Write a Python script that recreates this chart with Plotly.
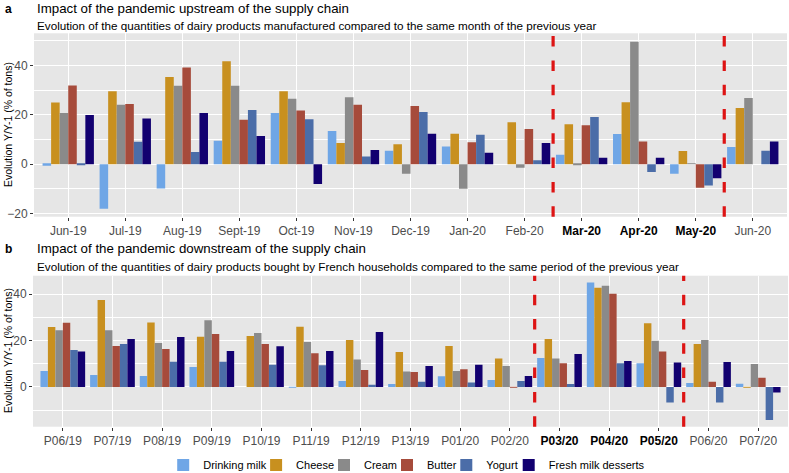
import plotly.graph_objects as go

W, H = 789, 473

# ---------------- data ----------------
series = ["Drinking milk", "Cheese", "Cream", "Butter", "Yogurt", "Fresh milk desserts"]
colors = ["#6FA6E6", "#C8901F", "#8A8A8A", "#A64B3B", "#4B6DA8", "#120070"]

months = ["Jun-19", "Jul-19", "Aug-19", "Sept-19", "Oct-19", "Nov-19", "Dec-19",
          "Jan-20", "Feb-20", "Mar-20", "Apr-20", "May-20", "Jun-20"]
months_bold = ["Mar-20", "Apr-20", "May-20"]

top_milk = [-0.6, -18.1, -9.9, 9.5, 20.8, 13.5, 5.5, 7.2, None, 3.8, 12.2, -3.9, 7.0]
top_cheese = [25.0, 29.6, 35.4, 41.8, 29.6, 8.6, 8.1, 12.4, 17.0, 16.2, 25.1, 5.4, 22.8]
top_cream = [20.8, 24.1, 31.8, 31.8, 26.5, 27.2, -3.9, -10.0, -1.4, -0.2, 49.7, 0.3, 26.9]
top_butter = [31.9, 24.4, 39.2, 18.0, 21.8, 24.1, 23.6, 8.9, 14.3, 15.8, 9.2, -9.6, None]
top_yogurt = [-0.3, 9.1, 4.9, 22.0, 18.2, 3.1, 21.2, 11.9, 1.6, 19.1, -3.2, -8.6, 5.5]
top_desserts = [20.0, 18.5, 20.8, 11.4, -8.0, 5.8, 12.4, 4.6, 8.6, 2.6, 2.6, -5.7, 9.2]
top_values = [top_milk, top_cheese, top_cream, top_butter, top_yogurt, top_desserts]
top_breaks = ["Mar-20", "Jun-20"]  # lockdown start / end (line drawn before these)

periods = ["P06/19", "P07/19", "P08/19", "P09/19", "P10/19", "P11/19", "P12/19", "P13/19",
           "P01/20", "P02/20", "P03/20", "P04/20", "P05/20", "P06/20", "P07/20"]
periods_bold = ["P03/20", "P04/20", "P05/20"]

bot_milk = [6.9, 5.2, 4.7, 8.6, None, -0.3, 2.6, 1.3, 4.6, 3.0, 12.5, 45.0, 10.2, 1.7, 1.4]
bot_cheese = [25.8, 37.4, 27.8, 21.6, 21.9, 25.9, 20.2, 15.1, 17.6, 12.3, 20.6, 42.7, 27.4, 18.5, -0.3]
bot_cream = [24.4, 24.4, 18.9, 28.7, 23.2, 19.4, 11.8, 6.7, 6.9, 9.0, 12.3, 43.6, 19.9, 20.2, 9.9]
bot_butter = [27.7, 17.6, 16.3, 22.8, 18.5, 14.5, 7.3, 6.5, 7.6, -0.3, 10.2, 40.1, 15.3, 2.3, 4.0]
bot_yogurt = [15.9, 18.5, 10.9, 10.9, 9.6, 9.3, 1.0, 2.2, 1.9, 2.6, 1.3, 10.2, -6.7, -6.7, -14.2]
bot_desserts = [15.3, 20.6, 21.5, 15.5, 17.5, 15.5, 23.7, 9.0, 9.6, 4.7, 14.2, 11.2, 10.5, 10.8, -2.4]
bot_values = [bot_milk, bot_cheese, bot_cream, bot_butter, bot_yogurt, bot_desserts]
bot_breaks = ["P03/20", "P06/20"]

y_title = "Evolution Y/Y-1 (% of tons)"

# ---------------- helpers ----------------
def px(x):
    return x / W

def py(y):
    return 1 - y / H

FONT = "Liberation Sans, Arial, sans-serif"

def tick_text(cats, bold):
    out = []
    for c in cats:
        if c in bold:
            out.append("<span style='color:#000000'><b>%s</b></span>" % c)
        else:
            out.append(c)
    return out

fig = go.Figure()

legend_ids = ["legend", "legend2", "legend3", "legend4", "legend5", "legend6"]
legend_centers = [183.2, 276.1, 344.0, 407.0, 466.3, 528.7]  # swatch centres (px)

for i, name in enumerate(series):
    fig.add_trace(go.Bar(x=months, y=top_values[i], name=name, marker_color=colors[i],
                         marker_line_width=0, legendgroup=name, showlegend=True,
                         legend=legend_ids[i], xaxis="x", yaxis="y"))
for i, name in enumerate(series):
    fig.add_trace(go.Bar(x=periods, y=bot_values[i], name=name, marker_color=colors[i],
                         marker_line_width=0, legendgroup=name, showlegend=False,
                         xaxis="x2", yaxis="y2"))

shapes = []
for b in top_breaks:
    xv = months.index(b) - 0.5
    shapes.append(dict(type="line", xref="x", yref="y domain", x0=xv, x1=xv, y0=0, y1=1,
                       line=dict(color="#DD1414", width=3.2, dash="10.5px,13.8px")))
for b in bot_breaks:
    xv = periods.index(b) - 0.5
    shapes.append(dict(type="line", xref="x2", yref="y2 domain", x0=xv, x1=xv, y0=0, y1=1,
                       line=dict(color="#DD1414", width=3.2, dash="10.5px,13.8px")))

grid = dict(showgrid=True, gridcolor="white", gridwidth=1.1, zeroline=False,
            ticks="outside", ticklen=3, tickcolor="#333333", tickwidth=1,
            tickfont=dict(family=FONT, size=12, color="#4D4D4D"), automargin=False,
            showline=False)

xleft, xright = 34, 787

layout = dict(
    width=W, height=H,
    margin=dict(l=0, r=0, t=0, b=0, autoexpand=False),
    template="none",
    paper_bgcolor="white",
    plot_bgcolor="#E6E6E6",
    barmode="group", bargap=0.1, bargroupgap=0,
    font=dict(family=FONT, color="#000000"),
    shapes=shapes,
    xaxis=dict(domain=[px(xleft), px(xright)], anchor="y", type="category",
               tickmode="array", tickvals=months, ticktext=tick_text(months, months_bold),
               range=[-0.6, len(months) - 0.4], **grid),
    yaxis=dict(domain=[py(216.7), py(33.3)], anchor="x", range=[-21.3, 53.1],
               tickvals=[-20, 0, 20, 40],
               minor=dict(tickvals=[-10, 10, 30, 50], showgrid=True, gridcolor="white",
                          gridwidth=0.5, ticks=""),
               **grid),
    xaxis2=dict(domain=[px(xleft - 1), px(xright + 1)], anchor="y2", type="category",
                tickmode="array", tickvals=periods, ticktext=tick_text(periods, periods_bold),
                range=[-0.6, len(periods) - 0.4], **grid),
    yaxis2=dict(domain=[py(426.7), py(275.7)], anchor="x2", range=[-17.1, 47.9],
                tickvals=[0, 20, 40],
                minor=dict(tickvals=[-10, 10, 30], showgrid=True, gridcolor="white",
                           gridwidth=0.5, ticks=""),
                **grid),
)
for lid, cx in zip(legend_ids, legend_centers):
    layout[lid] = dict(orientation="h", x=px(cx - 20), xanchor="left", y=py(465), yanchor="middle",
                       font=dict(family=FONT, size=11, color="#000000"),
                       bgcolor="rgba(0,0,0,0)", itemwidth=30, borderwidth=0)
fig.update_layout(**layout)

ann = []
def txt(x, y, s, size, bold=False, xanchor="left", angle=0, color="#000000"):
    ann.append(dict(x=px(x), y=py(y), xref="paper", yref="paper", text=("<b>%s</b>" % s) if bold else s,
                    showarrow=False, xanchor=xanchor, yanchor="middle", textangle=angle,
                    font=dict(family=FONT, size=size, color=color)))

txt(3, 9, "a", 12, bold=True)
txt(35, 9, "Impact of the pandemic upstream of the supply chain", 13.3)
txt(35, 25, "Evolution of the quantities of dairy products manufactured compared to the same month of the previous year", 11.7)
txt(3, 249, "b", 12, bold=True)
txt(35, 249, "Impact of the pandemic downstream of the supply chain", 13.3)
txt(35, 266, "Evolution of the quantities of dairy products bought by French households compared to the same period of the previous year", 11.7)
txt(8, 125, y_title, 10.5, xanchor="center", angle=-90)
txt(8, 351, y_title, 10.5, xanchor="center", angle=-90)
fig.update_layout(annotations=ann)

fig.write_html("out.html", config={"displayModeBar": False},
               post_script="document.body.style.margin='0';document.body.style.padding='0';document.body.style.overflow='hidden';")
